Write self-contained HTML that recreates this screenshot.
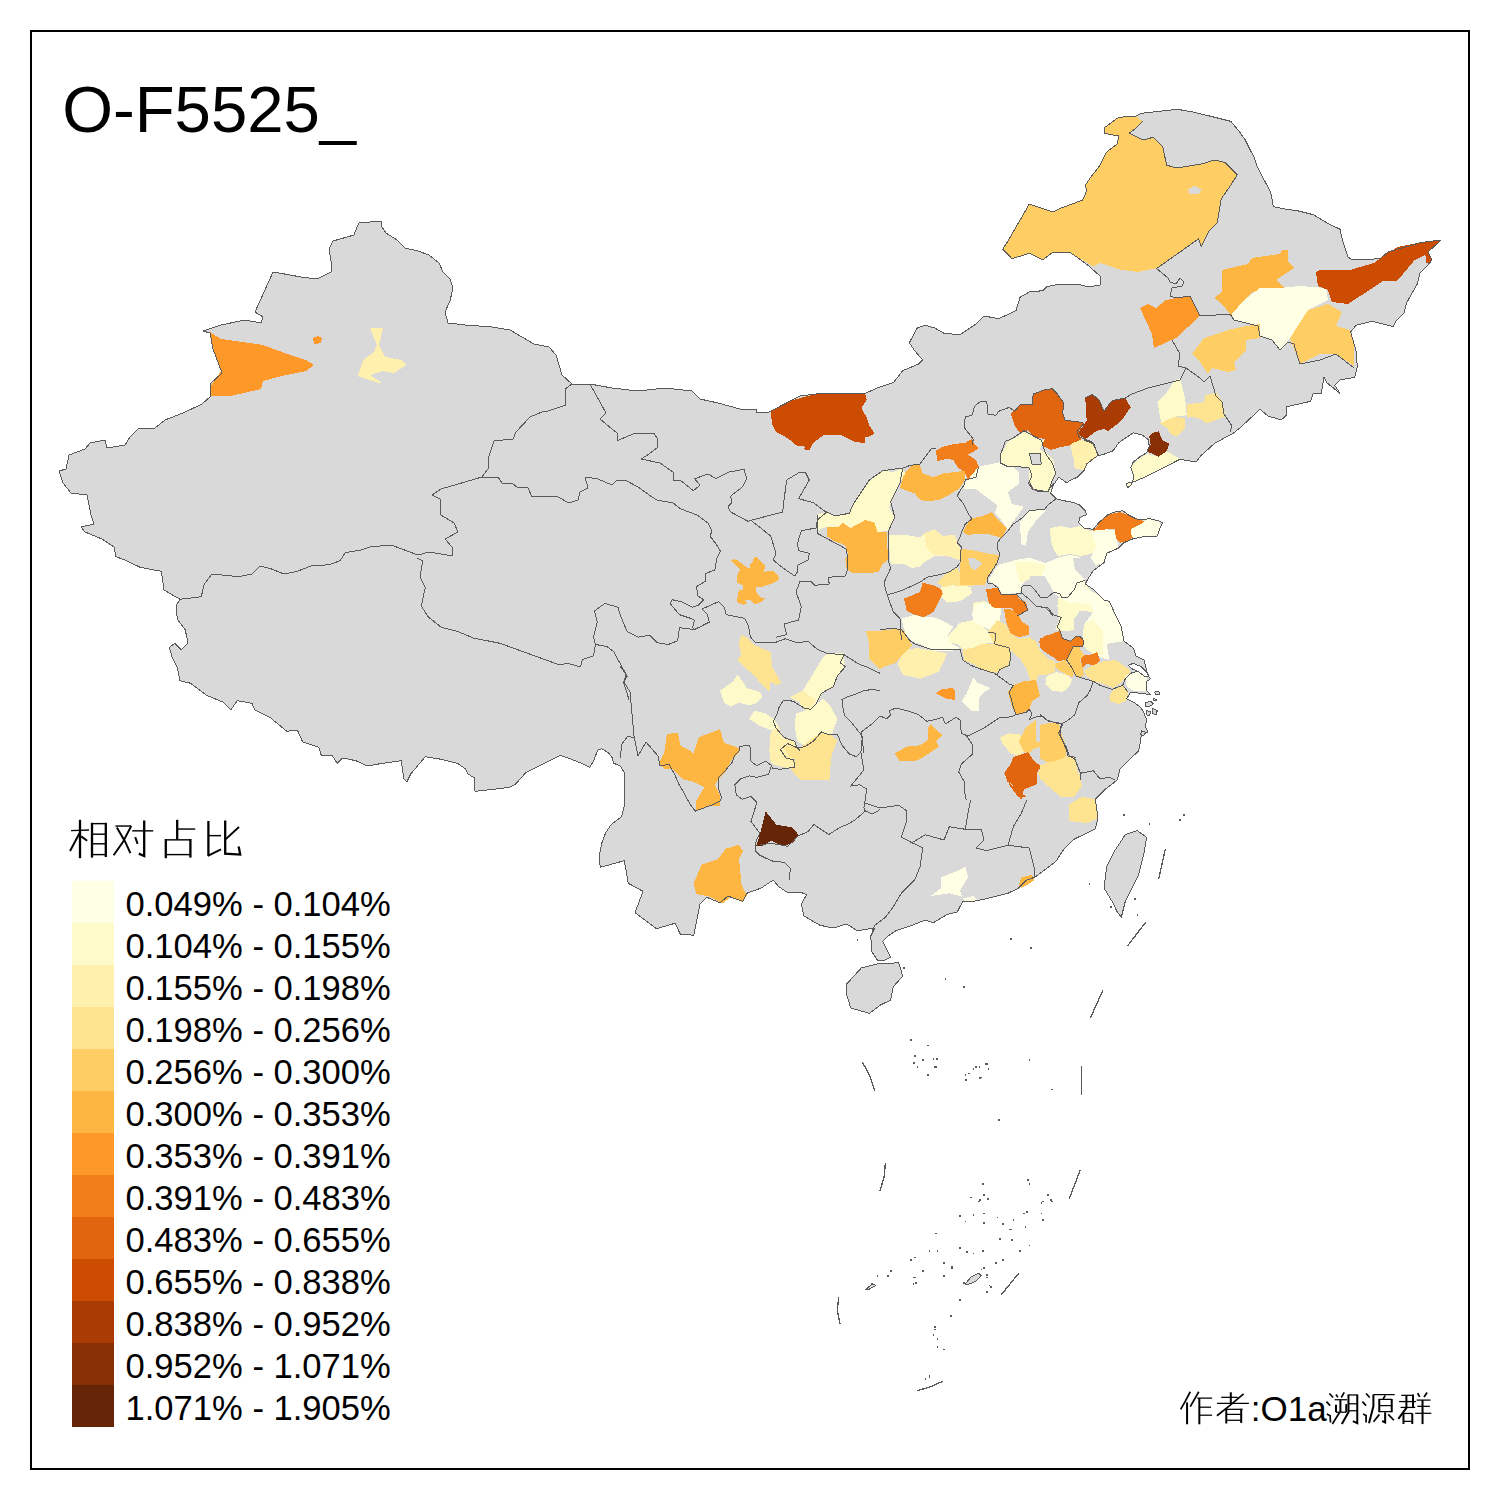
<!DOCTYPE html><html><head><meta charset="utf-8"><style>html,body{margin:0;padding:0;background:#fff;}body{width:1500px;height:1500px;overflow:hidden;position:relative;font-family:"Liberation Sans",sans-serif;}svg{position:absolute;left:0;top:0;}.cjk{font-family:"Liberation Serif",serif;font-weight:300;}.cjk2{font-family:"Liberation Sans",sans-serif;font-weight:300;}</style></head><body>
<svg width="1500" height="1500" viewBox="0 0 1500 1500">
<rect x="0" y="0" width="1500" height="1500" fill="#fff"/>
<g stroke-linejoin="round" shape-rendering="crispEdges">
<path d="M359 223 L381 221 L382 227 L386 233 L397 240 L405 248 L418 251 L429 255 L439 263 L443 272 L450 279 L453 288 L450 301 L445 312 L448 323 L465 325 L492 327 L510 330 L534 344 L549 347 L556 355 L562 375 L572 384 L590 384 L612 388 L638 391 L665 388 L692 391 L700 399 L718 403 L740 409 L756 409 L757 413 L769 412 L800 396 L821.3 393.3 L865.3 393.3 L877.3 388 L893.3 382.7 L902.7 370.7 L918.7 364 L922.7 360 L914.7 350.7 L909.3 342.7 L917.3 328 L925.3 325.3 L934.7 328 L944 333.3 L960 334.7 L976 324 L984 316 L998.7 318.7 L1016 310.7 L1020 297.3 L1029.3 292 L1042.7 290.7 L1046.7 286.7 L1060 284 L1077.3 284 L1088 286.7 L1100 285.3 L1100 276 L1088 265.3 L1077.3 257.3 L1069.3 252 L1053.3 252 L1042.7 260 L1029.3 253.3 L1012 258.7 L1002.7 249.3 L1009.3 238.7 L1029.3 204 L1053.3 212 L1061.3 208 L1082.7 200 L1086.7 190.7 L1085.3 185.3 L1090.7 177.3 L1100 165.3 L1106.7 152 L1117.3 144 L1118.7 136 L1104 133.3 L1104 128 L1118.7 117.3 L1136 116 L1141.3 113.3 L1153.3 112 L1177.3 109.3 L1193.3 112 L1214.7 117.3 L1230.7 121.3 L1238.7 130.7 L1245.3 140 L1249.3 148 L1254.7 158.7 L1257.3 166.7 L1262.7 177.3 L1270.7 192 L1273.3 206.7 L1286.7 209.3 L1297.3 210.7 L1313.3 214.7 L1326.7 222.7 L1340 229.3 L1342.7 241.3 L1348 257.3 L1353.3 260 L1380 258.7 L1388 252 L1420 242.7 L1441.3 240 L1428 252 L1432 260 L1425.3 268 L1420 273.3 L1417.3 284 L1406.7 302.7 L1404 313.3 L1396 321.3 L1393.3 326.7 L1372 321.3 L1356 325.3 L1350.7 332 L1356 350.7 L1357.3 366.7 L1354.7 377.3 L1340 380 L1334.7 385.3 L1340 393.3 L1326.7 382.7 L1324 377.3 L1321.3 393.3 L1313.3 393.3 L1310.7 401.3 L1286.7 406.7 L1286.7 414.7 L1281.3 420 L1268 416 L1260 409.3 L1241.3 426.7 L1233.3 433.3 L1228 436 L1214.7 443.3 L1201.3 455.3 L1196 462 L1180 459.3 L1166.7 466 L1153.3 472.7 L1142.7 478 L1133.3 482 L1126.7 483.3 L1127.3 488 L1131.3 484.7 L1134 476.7 L1132 471.3 L1130.7 467.3 L1133.3 462 L1140 456.7 L1146.7 452.7 L1149.3 446 L1148 439.3 L1142.7 435.3 L1133.3 432.7 L1118.7 442.7 L1113.3 450.7 L1102.7 454.7 L1097.3 456 L1093.3 458.7 L1086.7 464 L1084 470.7 L1077.3 477.3 L1070.7 480 L1066.7 482.7 L1058.7 477.3 L1053.3 485.3 L1050.7 493.3 L1056 498.7 L1066.7 501.3 L1074.7 502.7 L1080 505.3 L1085.3 510.7 L1086.7 514.7 L1080 517.3 L1078.7 522.7 L1084 528 L1093.3 529.3 L1098.7 522.7 L1108 514.7 L1114.7 512 L1122.7 510.7 L1128 514.7 L1136 518.7 L1141.3 520 L1149.3 518.7 L1160 521.3 L1162.7 522.7 L1160 528 L1157.3 536 L1149.3 536 L1140 537.3 L1133.3 538.7 L1124 542.7 L1118.7 548 L1106.7 553.3 L1104 562.7 L1093.3 570.7 L1088 578.7 L1085.3 584 L1093.3 589.3 L1104 600 L1109.3 601.3 L1114.7 613.3 L1121.3 626.7 L1124 641.3 L1133.3 648 L1136 656 L1144 660 L1146.7 670.7 L1148 676 L1150.7 678.7 L1146.7 681.3 L1146.7 690.7 L1150.7 694.7 L1130.7 692 L1126.7 698.7 L1134.7 702.7 L1141.3 708 L1144 713.3 L1146.7 720 L1145.3 726.7 L1148 732 L1141.3 734.7 L1140 744 L1138.7 750.7 L1133.3 756 L1128 761.3 L1120 769.3 L1117.3 780 L1106 788.7 L1095.3 799.3 L1098 818 L1095.3 828.7 L1084.7 834 L1074 839.3 L1063.3 850 L1056 861.3 L1045.3 869.3 L1034.7 877.3 L1026.7 880 L1018.7 888 L1008 893.3 L986.7 898.7 L973.3 901.3 L962.7 901.3 L957.3 912 L946.7 914.7 L933.3 922.7 L925.3 920 L912 925.3 L896 930.7 L888 936 L882.7 941.3 L890.7 957.3 L885.3 960 L877.3 960 L872 952 L870.7 936 L874.7 928 L857.3 930.7 L846.7 924 L833.3 928 L820 925.3 L804 916 L801.3 904 L806.7 894.7 L800 892 L786.7 892 L778.7 886.7 L773.3 880 L761.3 888 L746.7 893.3 L742.7 901.3 L734.7 898.7 L728 896 L720 902.7 L706.7 897.3 L700 904 L693.7 935.3 L680.3 934 L675 923.3 L656.3 928.7 L635 912.7 L643 891.3 L628.3 883.3 L624.3 860.7 L600.3 867.3 L599 856.7 L601.7 843.3 L605.7 832.7 L611 824.7 L621.7 816.7 L624.3 806 L624.3 772.7 L620.3 766 L613.7 763.3 L612.3 758 L608.3 752.7 L601.7 748.7 L597.7 750 L593.7 760.7 L589.7 767.3 L581.7 763.3 L568.3 758 L560.3 755.3 L544.3 763.3 L525.7 772.7 L515 784.7 L509.7 787.3 L499 788.7 L475 791.3 L474.7 778 L468 774 L465.3 768.7 L457.3 763.3 L441.3 759.3 L425.3 756.7 L410.7 774 L406.7 782 L404 779.3 L401.3 760.7 L382.7 763.3 L366.7 766 L356 760.7 L342.7 758 L337.3 763.3 L332 755.3 L321.3 755.3 L318.7 747.3 L302.7 742 L297.3 730 L286.7 731.3 L270.7 718 L254.7 710 L252 703.3 L237.3 700.7 L230.7 710 L222.7 702 L206.7 695.3 L190.7 683.3 L180 680.7 L177.3 667.3 L172 656.7 L169.3 647.3 L174.7 643.3 L181.3 650 L188 643.3 L185.3 630 L177.3 619.3 L176 606 L180 599.3 L164 590 L161.3 571.3 L140 567.3 L126.7 560.7 L116 556.7 L114 547 L102 539 L85 532 L81 527 L94 524 L91 515 L87 495 L71 493 L63 483 L59 471 L66 469 L69 455 L85 449 L90 443 L105 440 L107 448 L125 445 L130 437 L138 429 L155 428 L165 420 L183 413 L202 404 L210 397 L210 384 L222 373 L213 349 L210 333 L203 331 L221 325 L245 320 L261 323 L263 317 L255 312 L273 272 L279 273 L301 277 L317 279 L331 272 L331 261 L329 249 L333 241 L354 235 L357 227Z" fill="#D9D9D9"/>
<path d="M846.7 984 L861.3 968 L877.3 964 L898.7 962.7 L902.7 976 L893.3 986.7 L890.7 1000 L880 1005.3 L869.3 1013.3 L850.7 1008 L846.7 994.7Z" fill="#D9D9D9"/>
<path d="M1104 888 L1106.7 866.7 L1114.7 850.7 L1125.3 834.7 L1137.3 830.7 L1146.7 837.3 L1144 853.3 L1138.7 874.7 L1130.7 890.7 L1125.3 901.3 L1121.3 917.3 L1117.3 912 L1112 901.3Z" fill="#D9D9D9"/>
<path d="M210 332 L221 339 L263 345 L290 355 L306 360 L314 365 L306 371 L282 376 L263 381 L261 389 L231 396 L210 396 L210 387 L217 377 L221 371 L215 355Z" fill="#FE9929"/>
<path d="M313 338 L318 336 L322 338 L321 343 L314 344Z" fill="#FE9929"/>
<path d="M370 328 L383 328 L379 345 L385 357 L402 360 L406 365 L394 373 L383 371 L370 375 L382 383 L378 383 L358 376 L363 360 L374 352 L377 345Z" fill="#FFF0AE"/>
<path d="M770.7 412 L776 408 L793.3 400 L808 396 L820 393.3 L833.3 393.3 L846.7 393.3 L865.3 394 L866.7 400 L861.3 408 L866.7 417.3 L869.3 425.3 L874.7 433.3 L870.7 436 L865.3 437.3 L864.7 443.3 L853.3 441.3 L840 434.7 L824 434.7 L813.3 442.7 L809.3 450.7 L804 449.3 L805.3 446.7 L796 445.3 L792 441.3 L784 436 L776 432 L772 424Z" fill="#CC4C02"/>
<path d="M731 560.4 L734.2 559.2 L737.8 560.4 L747 567.6 L749.8 568 L750.2 564 L753 561.2 L753.8 557.6 L756.6 557.2 L761 561.2 L765 565.6 L764.2 571.6 L773.8 571.2 L777 574.4 L779 578.4 L777.8 580.8 L770.6 584 L762.6 586.8 L756.2 587.2 L756.2 592 L758.2 595.2 L761 597.6 L765 598.4 L761.8 601.6 L759.4 602.8 L754.6 604 L750.6 599.6 L745 600 L746.6 603.6 L743.4 604.8 L737 602 L737.4 597.2 L739 590 L743 589.6 L742.6 585.2 L737 582.8 L736.6 577.6 L738.6 571.6 L740.2 570Z" fill="#FEB642"/>
<path d="M1002.7 249.3 L1009.3 238.7 L1029.3 204 L1053.3 212 L1061.3 208 L1082.7 200 L1086.7 190.7 L1085.3 185.3 L1090.7 177.3 L1100 165.3 L1106.7 152 L1117.3 144 L1118.7 136 L1104 133.3 L1104 128 L1118.7 117.3 L1136 116 L1142.7 121.3 L1136 128 L1129.3 133.3 L1142.7 140 L1153.3 137.3 L1162.7 146.7 L1166.7 165.3 L1177.3 168 L1201.3 164 L1214.7 160 L1225.3 162.7 L1237.3 174.7 L1230.7 185.3 L1221.3 198.7 L1217.3 222.7 L1209.3 230.7 L1201.3 246.7 L1198.7 238.7 L1180 252 L1157.3 268 L1137.3 272 L1118.7 269.3 L1100 262.7 L1093.3 266.7 L1082.7 260 L1069.3 252 L1053.3 252 L1042.7 260 L1029.3 253.3 L1012 258.7Z" fill="#FECE65"/>
<path d="M1188 189.3 L1194.7 185.9 L1201.9 189.3 L1198.7 193.9 L1189.3 193.9Z" fill="#D9D9D9"/>
<path d="M1140 308 L1148 304 L1156 308 L1166 300 L1188 296 L1192 300 L1200 316 L1176 338 L1154 348 L1152 334Z" fill="#FE9929"/>
<path d="M1214 298 L1222 292 L1222 270 L1248 264 L1252 258 L1280 254 L1282 250 L1288 250 L1288 262 L1294 268 L1276 280 L1284 288 L1252 292 L1236 310 L1232 316 L1220 302Z" fill="#FEB642"/>
<path d="M1232 314 L1244 300 L1260 288 L1280 288 L1300 286 L1326 288 L1328 300 L1308 310 L1302 330 L1290 338 L1284 348 L1280 350 L1272 340 L1260 336 L1258 326 L1234 320Z" fill="#FFFFE5"/>
<path d="M1290 338 L1308 310 L1328 304 L1342 312 L1336 326 L1350 330 L1354 346 L1354 366 L1336 354 L1320 354 L1300 364Z" fill="#FECE65"/>
<path d="M1192 354 L1204 338 L1228 330 L1246 326 L1260 324 L1260 338 L1246 340 L1246 350 L1234 362 L1236 370 L1228 372 L1212 368 L1208 374 L1200 362Z" fill="#FECE65"/>
<path d="M1316 272 L1320 270 L1342 270 L1350 270 L1374.7 262.7 L1386.7 253.3 L1398.7 246.7 L1420 242.7 L1440 240 L1428 252 L1432 260 L1426.7 264 L1425.3 254.7 L1414.7 260 L1401.3 276 L1396 281.3 L1382.7 281.3 L1348 304 L1332 302 L1328 290 L1318 286Z" fill="#CC4C02"/>
<path d="M1157.3 402 L1166.7 392.7 L1174.7 380.7 L1180 378 L1182.7 388.7 L1185.3 399.3 L1186.7 415.3 L1174.7 416.7 L1161.3 423.3Z" fill="#FFFACA"/>
<path d="M1186.7 404.7 L1204 402 L1205.3 395.3 L1216 392.7 L1222.7 402 L1225.3 416.7 L1206.7 423.3 L1198.7 418 L1186.7 416.7Z" fill="#FEE391"/>
<path d="M1160 423.3 L1174.7 416.7 L1185.3 418 L1185.3 428.7 L1177.3 436.7 L1170.7 434 L1168 428.7Z" fill="#FEE391"/>
<path d="M1077.3 434 L1086.7 420.7 L1085.3 398 L1092 394.7 L1098.7 399.3 L1104 411.3 L1112 400.7 L1125.3 398 L1130.7 407.3 L1121.3 420.7 L1108 431.3 L1104 428.7 L1096 431.3 L1085.3 439.3Z" fill="#AA3C03"/>
<path d="M1146.7 451.3 L1150.7 444.7 L1149.3 436.7 L1153.3 432.7 L1158.7 431.3 L1162.7 440.7 L1169.3 443.3 L1166.7 451.3 L1158.7 456.7Z" fill="#882F05"/>
<path d="M1127.3 487.3 L1131.3 484.7 L1134 476.7 L1132 471.3 L1130.7 467.3 L1140 458 L1146.7 454 L1158.7 456.7 L1166.7 451.3 L1178.7 458 L1180 459.3 L1166.7 466 L1153.3 472.7 L1142.7 478 L1133.3 482 L1126.7 483.3Z" fill="#FFFACA"/>
<path d="M1070.7 446 L1081.3 439.3 L1092 442 L1098.7 455.3 L1093.3 460.7 L1086.7 463.3 L1085.3 470 L1074.7 468.7 L1073.3 456.7Z" fill="#FFF0AE"/>
<path d="M1010.7 414 L1020 404.7 L1032 404.7 L1033.3 394 L1044 390 L1052 388.7 L1057.3 394 L1064 403.3 L1062.7 412.7 L1065.3 420.7 L1076 421.3 L1084 423.3 L1078.7 431.3 L1081.3 439.3 L1073.3 444.7 L1060 447.3 L1050.7 450 L1041.3 444.7 L1045.3 439.3 L1033.3 436.7 L1028 430 L1020 432.7 L1014.7 426Z" fill="#E1640E"/>
<path d="M936 450.7 L942.7 446.7 L954.7 444 L965.3 442.7 L972 438.7 L974.7 444 L978.7 448 L973.3 452 L968 454.7 L976 460 L978.7 466.7 L976 477.3 L968 480 L965.3 473.3 L957.3 466.7 L953.3 460 L946.7 458.7 L937.3 461.3Z" fill="#F27E1B"/>
<path d="M900 488 L904 473.3 L912 465.3 L920 465.3 L922.7 473.3 L933.3 477.3 L944 473.3 L954.7 472 L965.3 470.7 L965.3 478.7 L960 488 L949.3 494.7 L938.7 500 L926.7 501.3 L920 500 L914.7 493.3 L906.7 490.7Z" fill="#FEB642"/>
<path d="M818.7 533.3 L816 525.3 L817.3 514.7 L825.3 512 L834.7 516 L849.3 513.3 L853.3 504 L857.3 496 L869.3 480 L876 474.7 L882.7 470.7 L893.3 472 L902.7 468 L905.3 473.3 L900 482.7 L892 498.7 L889.3 508 L894.7 517.3 L889.3 530.7 L877.3 532 L874.7 522.7 L865.3 520 L850.7 528 L842.7 522.7 L838.7 526.7 L826.7 526.7 L817.3 530.7Z" fill="#FFFACA"/>
<path d="M826.7 526.7 L838.7 526.7 L842.7 522.7 L850.7 528 L865.3 520 L874.7 522.7 L877.3 532 L886.7 532 L888 560 L882.7 564 L878.7 572 L866.7 573.3 L853.3 573.3 L846.7 569.3 L845.3 560 L848 553.3 L845.3 545.3 L834.7 541.3 L826.7 536Z" fill="#FEB642"/>
<path d="M964 484 L978.7 466.7 L997.3 462.7 L1008 461.3 L1018.7 472 L1018.7 484 L1008 492 L1012 504 L1024 506.7 L1013.3 521.3 L1008 529.3 L1000 518.7 L994.7 513.3 L997.3 505.3 L986.7 497.3 L976 489.3 L964 489.3Z" fill="#FFFFE5"/>
<path d="M1000 456 L1008 441.3 L1016 437.3 L1025.3 430.7 L1036 438.7 L1044 440 L1040 449.3 L1046.7 453.3 L1053.3 460 L1056 473.3 L1052 481.3 L1050.7 492 L1034.7 489.3 L1029.3 481.3 L1029.3 468 L1018.7 466.7 L1008 466.7 L1001.3 462.7Z" fill="#FFFACA"/>
<path d="M1029.3 453.3 L1040 453.3 L1041.3 464 L1032 464Z" fill="#D9D9D9"/>
<path d="M1070.7 444 L1080 440 L1080 465.3 L1074.7 461.3 L1072 453.3Z" fill="#FFF0AE"/>
<path d="M888 534.7 L904 534.7 L920 537.3 L924 533.3 L926.7 548 L933.3 554.7 L946.7 556 L934.7 556 L924 562.7 L920 566.7 L912 568 L904 564 L890.7 564Z" fill="#FFFACA"/>
<path d="M924 533.3 L934.7 529.3 L942.7 536 L954.7 534.7 L960 548 L960 560 L946.7 556 L933.3 554.7 L926.7 548Z" fill="#FFF0AE"/>
<path d="M937.3 582.7 L946.7 573.3 L957.3 568 L962.7 577.3 L976 585.3 L965.3 586.7 L954.7 585.3 L944 588Z" fill="#FEE391"/>
<path d="M938.7 588 L952 585.3 L970.7 586.7 L972 593.3 L960 601.3 L946.7 602.7 L940 596Z" fill="#FFFACA"/>
<path d="M904 598.7 L920 592 L922.7 582.7 L933.3 585.3 L941.3 589.3 L942.7 593.3 L936 606.7 L933.3 612 L924 617.3 L914.7 614.7 L906.7 610.7Z" fill="#F27E1B"/>
<path d="M963 532 L970 519 L983 516 L992 512 L996 518 L1007 528 L1002 538 L988 534 L975 534 L968 535Z" fill="#FEB642"/>
<path d="M962 549 L972 550 L990 554 L1000 555 L998 562 L990 573 L987 579 L985 585 L970 585 L960 585 L960 550Z" fill="#FECE65"/>
<path d="M968 558 L974 558 L982 563 L975 570 L970 567Z" fill="#D9D9D9"/>
<path d="M1020 522 L1030 510 L1046 510 L1035 522 L1028 532 L1026 546 L1021 544Z" fill="#FFFFE5"/>
<path d="M1050 528 L1060 526 L1070 528 L1080 526 L1090 531 L1098 538 L1102 545 L1098 550 L1090 554 L1080 556 L1070 554 L1058 556 L1054 550 L1051 542Z" fill="#FFFACA"/>
<path d="M1090 532 L1096 528 L1108 530 L1110 532 L1110 554 L1104 556 L1098 550 L1102 545 L1098 538Z" fill="#FFFFE5"/>
<path d="M998 565 L1020 559 L1030 558 L1046 563 L1060 557 L1071 555 L1080 557 L1083 565 L1088 570 L1086 580 L1080 584 L1075 590 L1068 597 L1060 593 L1053 591 L1047 580 L1045 576 L1030 576 L1022 584 L1020 593 L1002 594 L998 586 L990 582 L989 579Z" fill="#FFFFE5"/>
<path d="M1015 562 L1030 562 L1046 565 L1042 575 L1030 579 L1020 583 L1017 572Z" fill="#FFFACA"/>
<path d="M1030 576 L1045 576 L1053 591 L1048 597 L1040 597 L1035 590 L1030 585Z" fill="#D9D9D9"/>
<path d="M1073 558 L1083 558 L1090 566 L1090 576 L1085 580 L1075 570Z" fill="#D9D9D9"/>
<path d="M1058 598 L1068 597 L1075 590 L1085 583 L1090 590 L1100 596 L1110 602 L1110 630 L1055 630 L1060 618 L1058 606Z" fill="#FFFACA"/>
<path d="M1074 610 L1090 608 L1093 616 L1090 630 L1074 630Z" fill="#D9D9D9"/>
<path d="M986 589 L998 588 L1001 594 L1016 594 L1020 600 L1026 602 L1028 610 L1016 616 L1012 608 L1003 608 L992 610 L988 600Z" fill="#F27E1B"/>
<path d="M1090.7 530.7 L1106.7 529.3 L1114.7 530.7 L1118.7 548 L1106.7 553.3 L1104 562.7 L1096 565.3 L1090.7 557.3 L1096 546.7Z" fill="#FFFFE5"/>
<path d="M1093.3 530.7 L1100 522.7 L1108 514.7 L1120 512 L1128 514.7 L1133.3 517.3 L1144 521.3 L1138.7 528 L1130.7 529.3 L1130.7 533.3 L1133.3 537.3 L1126.7 541.3 L1120 542.7 L1116 538.7 L1114.7 529.3 L1106.7 529.3Z" fill="#F27E1B"/>
<path d="M1130.7 529.3 L1141.3 524 L1146.7 518.7 L1160 521.3 L1160 528 L1157.3 536 L1149.3 536 L1140 537.3 L1133.3 538.7 L1130.7 533.3Z" fill="#FFFFE5"/>
<path d="M901.3 618.7 L914.7 614.7 L922.7 617.3 L933.3 617.3 L941.3 620 L953.3 626.7 L948 634.7 L952 644 L960 648 L952 650.7 L930.7 650.7 L922.7 645.3 L912 641.3 L905.3 633.3Z" fill="#FFFFE5"/>
<path d="M973.3 602.7 L984 601.3 L990.7 604 L993.3 613.3 L996 620 L973.3 620Z" fill="#FFFACA"/>
<path d="M880 630.7 L893.3 629.3 L902.7 629.3 L912 645.3 L906.7 650.7 L900 657.3 L896 662.7 L884 666.7 L880 669.3 L868.7 658 L868.7 642 L866 631.3Z" fill="#FECE65"/>
<path d="M897.3 664 L901.3 656 L908 649.3 L917.3 648 L933.3 650.7 L946.7 653.3 L944 661.3 L938.7 672 L920 678.7 L902.7 674.7Z" fill="#FFF0AE"/>
<path d="M949.3 634.7 L960 622.7 L973.3 620 L981.3 625.3 L989.3 632 L993.3 642.7 L981.3 644 L974.7 650.7 L962.7 649.3 L957.3 644 L949.3 642.7Z" fill="#FFFACA"/>
<path d="M972 613.3 L976 604 L986.7 602.7 L994.7 608 L1001.3 608 L1000 620 L992 630.7 L982.7 626.7 L973.3 621.3Z" fill="#FFFFE5"/>
<path d="M1004 609.3 L1010.7 609.3 L1018.7 614.7 L1021.3 621.3 L1029.3 626.7 L1029.3 634.7 L1024 636 L1018.7 637.3 L1010.7 633.3 L1006.7 624Z" fill="#FE9929"/>
<path d="M988 632 L997.3 620 L1005.3 624 L1010.7 633.3 L1018.7 638.7 L1029.3 637.3 L1036 641.3 L1040 650.7 L1048 658.7 L1054.7 661.3 L1054.7 672 L1046.7 674.7 L1038.7 674.7 L1036 682.7 L1037.3 685.3 L1030.7 681.3 L1026.7 669.3 L1020 658.7 L1010.7 650.7 L994.7 645.3Z" fill="#FEE391"/>
<path d="M962.7 649.3 L973.3 648 L981.3 644 L993.3 644 L1008 646.7 L1010.7 656 L1008 666.7 L1000 670.7 L994.7 673.3 L984 670.7 L973.3 664 L964 660Z" fill="#FEE391"/>
<path d="M1038.7 641.3 L1046.7 634.7 L1056 634.7 L1060 630.7 L1064 640 L1073.3 642.7 L1072 650.7 L1066.7 658.7 L1058.7 661.3 L1053.3 657.3 L1042.7 650.7Z" fill="#F27E1B"/>
<path d="M1066.7 660 L1072 650.7 L1077.3 644 L1080 644 L1080 678.7 L1074.7 674.7 L1069.3 666.7Z" fill="#FECE65"/>
<path d="M1054.7 664 L1065.3 660 L1072 669.3 L1073.3 677.3 L1066.7 674.7 L1057.3 669.3Z" fill="#FECE65"/>
<path d="M1046.7 676 L1056 672 L1066.7 674.7 L1072 680 L1069.3 686.7 L1062.7 692 L1052 690.7 L1045.3 684Z" fill="#FFFACA"/>
<path d="M1008 692 L1013.3 685.3 L1024 681.3 L1036 680 L1040 696 L1032 701.3 L1029.3 709.3 L1024 712 L1016 714.7 L1012 706.7Z" fill="#FEB642"/>
<path d="M936 693.3 L941.3 689.3 L952 688 L954.7 690.7 L954.7 700 L946.7 698.7Z" fill="#FE9929"/>
<path d="M961.3 701.3 L966.7 693.3 L973.3 677.3 L977.3 682.7 L990.7 688 L982.7 693.3 L978.7 698.7 L978.7 710.7 L970.7 710.7Z" fill="#FFFFE5"/>
<path d="M894.7 753.3 L906.7 746.7 L920 745.3 L928 740 L928 728 L930.7 724 L938.7 732 L942.7 734.7 L936 741.3 L938.7 746.7 L929.3 753.3 L918.7 760 L910.7 761.3 L900 761.3Z" fill="#FEB642"/>
<path d="M1000 737.3 L1009.3 733.3 L1021.3 734.7 L1021.3 745.3 L1024 752 L1018.7 756 L1010.7 753.3 L1002.7 744Z" fill="#FFF0AE"/>
<path d="M1018.7 741.3 L1025.3 728 L1036 720 L1036 741.3 L1046.7 744 L1040 746.7 L1033.3 749.3 L1029.3 753.3 L1024 752Z" fill="#FECE65"/>
<path d="M1040 728 L1048 722.7 L1058.7 722.7 L1062.7 737.3 L1066.7 748 L1065.3 757.3 L1054.7 762.7 L1048 764 L1041.3 756 L1040 745.3Z" fill="#FECE65"/>
<path d="M1004 773.3 L1010.7 764 L1013.3 757.3 L1028 752 L1033.3 760 L1041.3 766.7 L1037.3 772 L1037.3 784 L1030.7 786.7 L1024 789.3 L1021.3 800 L1017.3 793.3 L1012 784 L1005.3 780 L1026 796.7 L1018 796.7 L1010 786Z" fill="#E1640E"/>
<path d="M1037.3 773.3 L1044 764 L1053.3 760 L1066.7 756 L1074.7 757.3 L1077.3 770.7 L1080 776 L1079.3 772.7 L1082 786 L1074 796.7 L1060.7 796.7 L1044.7 783.3Z" fill="#FEE391"/>
<path d="M1068.7 804.7 L1082 796.7 L1095.3 799.3 L1098 818 L1087.3 823.3 L1068.7 820.7Z" fill="#FEE391"/>
<path d="M1053.3 580 L1085.3 580 L1084 586.7 L1092 592 L1109.3 601.3 L1114.7 613.3 L1121.3 626.7 L1124 641.3 L1113.3 642.7 L1106.7 644 L1109.3 660 L1100 657.3 L1093.3 654.7 L1084 646.7 L1082.7 636 L1085.3 622.7 L1093.3 612 L1090.7 604 L1074.7 606.7 L1069.3 602.7 L1061.3 598.7 L1053.3 593.3Z" fill="#FFFFE5"/>
<path d="M1057.3 605.3 L1072 602.7 L1090.7 604 L1093.3 612 L1080 610.7 L1073.3 620 L1070.7 630.7 L1061.3 630.7 L1058.7 620Z" fill="#FFFACA"/>
<path d="M1084 624 L1093.3 620 L1102.7 630.7 L1102.7 654.7 L1093.3 654.7 L1084 646.7 L1082.7 636Z" fill="#FFFACA"/>
<path d="M1040 638.7 L1053.3 633.3 L1060 630.7 L1062.7 638.7 L1070.7 641.3 L1076 636 L1080 636 L1084 641.3 L1082.7 646.7 L1073.3 646.7 L1069.3 652 L1065.3 660 L1057.3 661.3 L1054.7 654.7 L1042.7 649.3 L1040 648Z" fill="#F27E1B"/>
<path d="M1080 656 L1090.7 654.7 L1097.3 652 L1100 660 L1096 665.3 L1086.7 664 L1082.7 668Z" fill="#F27E1B"/>
<path d="M1066.7 660 L1073.3 646.7 L1080 649.3 L1084 654.7 L1080 660 L1082.7 668 L1084 676 L1076 677.3 L1072 670.7Z" fill="#FECE65"/>
<path d="M1084 670.7 L1093.3 665.3 L1104 661.3 L1114.7 660 L1120 662.7 L1130.7 670.7 L1126.7 677.3 L1122.7 681.3 L1113.3 688 L1104 684 L1093.3 681.3 L1086.7 676Z" fill="#FEE391"/>
<path d="M1125.3 676 L1130.7 673.3 L1138.7 670.7 L1146.7 678.7 L1146.7 690.7 L1133.3 690.7 L1126.7 686.7Z" fill="#FFFFE5"/>
<path d="M1109.3 696 L1114.7 688 L1122.7 685.3 L1128 692 L1126.7 700 L1118.7 704 L1110.7 701.3Z" fill="#FEE391"/>
<path d="M1044 724 L1057.3 722.7 L1061.3 733.3 L1066.7 748 L1064 758.7 L1052 764 L1040 758.7 L1040 725.3Z" fill="#FECE65"/>
<path d="M1040 765.3 L1053.3 761.3 L1070.7 756 L1074.7 766.7 L1080 777.3 L1080 780 L1040 780Z" fill="#FEE391"/>
<path d="M930.7 896 L941.3 888 L941.3 877.3 L954.7 872 L965.3 866.7 L968 877.3 L960 890.7 L962.7 898.7 L973.3 896 L978.7 901.3 L965.3 901.3 L960 896 L949.3 893.3Z" fill="#FFFFE5"/>
<path d="M1018.7 885.3 L1021.3 877.3 L1032 874.7 L1034.7 880 L1026.7 885.3 L1021.3 888Z" fill="#FEB642"/>
<path d="M756.3 846 L760.3 832.7 L765.7 811.3 L776.3 824.7 L792.3 827.3 L799 835.3 L792.3 843.3 L781.7 846 L771 840.7 L761.7 846Z" fill="#662506"/>
<path d="M693.7 883.3 L701.7 864.7 L717.7 859.3 L725.7 848.7 L739 844.7 L743 851.3 L739 859.3 L741.7 886 L747 895.3 L741.7 902 L731 896.7 L723 903.3 L709.7 896.7 L696.3 894Z" fill="#FEB642"/>
<path d="M680 745.3 L688 749.3 L693.3 753.3 L698.7 737.3 L709.3 733.3 L720 729.3 L724 742.7 L738.7 748 L738.7 753.3 L730.7 761.3 L725.3 772 L717.3 780 L720.3 776.7 L715 784.7 L720.3 795.3 L720.3 806 L707 806 L696.3 811.3 L696.3 800.7 L704.3 787.3 L693.7 782 L683 779.3 L672.3 768.7 L664.3 768.7 L659 763.3 L664.3 752.7 L667 734 L677.7 732.7 L680.3 744.7 L688.3 751.3Z" fill="#FEB642"/>
<path d="M741.3 634.7 L746.7 637.3 L754.7 645.3 L770.7 652 L772 666.7 L781.3 682.7 L776 685.3 L770.7 681.3 L769.3 692 L762.7 685.3 L752 673.3 L745.3 668 L737.3 660 L741.3 654.7 L738.7 644Z" fill="#FEE391"/>
<path d="M720 690.7 L733.3 681.3 L737.3 674.7 L742.7 681.3 L746.7 688 L760 692 L762.7 697.3 L757.3 702.7 L749.3 705.3 L738.7 702.7 L730.7 706.7 L724 702.7Z" fill="#FFFACA"/>
<path d="M802.7 690.7 L813.3 673.3 L821.3 660 L826.7 653.3 L842.7 653.3 L845.3 666.7 L837.3 676 L833.3 686.7 L824 690.7 L818.7 700 L810.7 709.3 L800 705.3Z" fill="#FFFACA"/>
<path d="M789.3 697.3 L802.7 690.7 L812 697.3 L816 700 L810.7 709.3 L805.3 710.7 L800 702.7Z" fill="#FFF0AE"/>
<path d="M796 713.3 L810.7 709.3 L822.7 698.7 L830.7 706.7 L837.3 718.7 L832 734.7 L821.3 732 L813.3 738.7 L806.7 746.7 L797.3 741.3 L794.7 726.7Z" fill="#FFFACA"/>
<path d="M749.3 718.7 L754.7 710.7 L765.3 713.3 L773.3 718.7 L778.7 726.7 L772 730.7 L765.3 728 L758.7 725.3Z" fill="#FFFACA"/>
<path d="M770.7 732 L778.7 726.7 L782.7 737.3 L794.7 741.3 L797.3 749.3 L793.3 758.7 L794.7 766.7 L786.7 768 L776 765.3 L770.7 762.7 L769.3 750.7Z" fill="#FFF0AE"/>
<path d="M782.7 745.3 L800 748 L806.7 742.7 L821.3 732 L830.7 734.7 L837.3 740 L832 753.3 L830.7 764 L829.3 780 L800 780 L790.7 769.3 L794.7 764 L794.7 758.7 L782.7 754.7 L832.3 782 L816.3 776.7 L800.3 774Z" fill="#FEE391"/>
<g fill="none" stroke="#5A5A5A" stroke-width="1">
<path d="M180 599.3 L201.3 596.7 L204 584.7 L212 574 L238.7 576.7 L252 574 L260 566 L270.7 568.7 L284 574 L297.3 571.3 L310.7 566 L329.3 564.7 L340 560.7 L345.3 552.7 L361.3 550 L361 550 L370 547 L391 545 L418 555 L429 552 L453 556"/>
<path d="M417.3 558 L422.7 560.7 L420 576.7 L425.3 587.3 L421.3 606 L428 616.7 L441.3 627.3 L457.3 631.3 L473.3 638 L500 643.3 L560 665.1 L567.5 663.2 L580.5 666.9 L582.4 659.5 L593.6 655.7 L595.5 644.5"/>
<path d="M572 384 L565 389 L566 405 L548 411 L542 412 L530 417 L516 432 L513 439 L494 441 L489 456 L488 469 L482 477 L441 489 L432 495 L440 499 L441 515 L454 523 L458 532 L445 539 L452 547 L453 556"/>
<path d="M482 477 L498 477 L502 483 L513 484 L517 487 L528 488 L532 497 L548 496 L558 497 L569 503 L578 500 L580 492 L588 488 L585 477 L598 479 L612 485 L616 481 L625 480 L638 487 L652 497 L657 500 L673 503 L681 509 L697 515 L708 523 L712 531 L710 536 L716 544 L720.5 551.2 L716.8 558.7 L714.9 569.9 L705.6 573.6 L705.6 581.1 L696.3 586.7 L698.1 596 L703.7 599.7 L698.1 605.3 L692.5 607.2 L681.3 601.6 L672 599.7 L670.1 603.5 L679.5 614.7 L690.7 618.4 L694.4 620.3 L692.5 627.7 L694.4 629.6 L701.9 625.9 L709.3 622.1 L707.5 614.7 L701.9 609.1"/>
<path d="M701.9 609.1 L718.7 601.6 L724.3 607.2 L726.1 614.7 L744.8 618.4 L748.5 625.9 L750.4 637.1 L756 642.7 L774.7 642.7 L785.3 638.7 L797.3 642.7 L808 641.3 L817.3 649.3 L826.7 653.3 L844 654.7 L858.7 664 L869.3 668 L880 673.3"/>
<path d="M694.4 629.6 L679.5 627.7 L677.6 640.8 L668.3 644.5 L657.1 642.7 L649.6 635.2 L638.4 637.1 L627.2 631.5 L621.6 618.4 L617.9 607.2 L604.8 603.5 L594.5 610.9 L597.3 622.1 L593.6 637.1 L595.5 644.5 L606.7 646.4 L614.1 652 L617.9 659.5 L627.2 676.3 L623.5 681.9 L629.1 700"/>
<path d="M590 384 L606 413 L600 419 L612 429 L617 433 L617 441 L628 436 L636 433 L654 433 L658 440 L657 448 L646 456 L641 459 L660 463 L673 472 L673 480 L680 480 L693.3 490.7 L700 485.3 L694.7 478.7 L708 474 L716 478.7 L729.3 472 L744 469.3 L746.7 478.7 L742.7 486.7 L730.7 496 L732 502.7 L728 506.7 L730.7 512 L748 521.3 L752 520 L782.7 512 L784 500 L786.7 480 L800 472 L805.3 472 L809.3 480 L804 489.3 L798.7 498.7 L813.3 502.7 L818.7 506.7 L824 510.7 L834.7 516 L849.3 513.3 L853.3 504 L869.3 480 L882.7 470.7 L902.7 468"/>
<path d="M752 521.3 L757.3 525.3 L770.7 536 L776 553.3 L773.3 560 L781.3 566.7 L786.7 570.7 L794.7 576 L797.3 572 L797.3 565.3 L808 560 L809.3 553.3 L798.7 550.7 L797.3 544 L801.3 530.7 L816 528 L817.3 520 L826.7 512"/>
<path d="M902.7 468 L900 482.7 L890.7 501.3 L894.7 517.3 L888 532 L888 560 L890.7 568 L884 582.7 L886.7 593.3 L893.3 612 L900 618.7 L901.3 640"/>
<path d="M902.7 468 L910.7 465.3 L920 464 L932 448 L936 448"/>
<path d="M964 427.3 L965.3 416.7 L972 415.3 L974.7 406 L980 402 L986.7 401.3 L988 414 L996 415.3 L998.7 411.3 L1009.3 407.3 L1014.7 411.3 L1020 404.7 L1032 404.7 L1033.3 394 L1044 390 L1052 388.7 L1057.3 394 L1064 403.3 L1062.7 412.7 L1065.3 420.7 L1076 421.3 L1084 423.3 L1077.3 431.3 L1078.7 436.7 L1085.3 439.3 L1092 442 L1098.7 455.3"/>
<path d="M972 444.7 L973.3 439.3 L969.3 434 L964 427.3"/>
<path d="M978.7 466.7 L976 477.3 L965.3 480 L964 485.3 L960 490.7 L957.3 496 L962.7 502.7 L968 513.3 L972 518.7 L965.3 524 L962.7 529.3 L960 537.3 L957.3 542.7 L961.3 546.7 L960 562.7 L957.3 566.7 L949.3 572 L940 574.7 L926.7 577.3 L921.3 581.3 L913.3 585.3 L901.3 590.7 L888 594.7"/>
<path d="M1000 456 L1005.3 441.3 L1012 438.7 L1024 430.7 L1036 437.3 L1041.3 440 L1045.3 453.3 L1052 462.7 L1056 473.3 L1052 481.3 L1048 492 L1033.3 489.3 L1029.3 481.3 L1032 476 L1029.3 468 L1018.7 466.7 L1008 466.7 L1000 462.7 L1000 456"/>
<path d="M1029.3 453.3 L1040 453.3 L1041.3 464 L1032 464 L1029.3 453.3"/>
<path d="M1040 606.7 L1048 608 L1053.3 614.7 L1061.3 617.3 L1057.3 626.7 L1060 630.7 L1062.7 638.7 L1070.7 641.3 L1076 636 L1080 636 L1084 641.3 L1082.7 646.7 L1073.3 646.7 L1066.7 660 L1072 668 L1076 676 L1084 678.7 L1093.3 681.3 L1100 685.3 L1112 689.3 L1122.7 685.3 L1128 692"/>
<path d="M1122.7 685.3 L1125.3 678.7 L1130.7 673.3 L1138.7 670.7"/>
<path d="M1093.3 681.3 L1090.7 689.3 L1086.7 696 L1078.7 702.7 L1074.7 714.7 L1066.7 721.3 L1061.3 724 L1060 734.7 L1066.7 748 L1069.3 756 L1074.7 758.7 L1080 772 L1080 780"/>
<path d="M1040 714.7 L1046.7 720 L1058.7 724"/>
<path d="M1080 773.3 L1093.3 770.7 L1100 778.7 L1109.3 777.3 L1114.7 780"/>
<path d="M880 629.3 L893.3 628.7 L901.3 629.3 L909.3 640 L914.7 644 L930.7 649.3 L941.3 649.3 L952 650 L960 649.3 L962.7 660 L970.7 665.3 L981.3 669.3 L994.7 673.3 L1000 677.3 L1009.3 684 L1013.3 685.3"/>
<path d="M988 632 L996 633.3 L994.7 644 L1009.3 648 L1010.7 656 L1009.3 665.3 L1000 669.3 L997.3 674.7"/>
<path d="M1013.3 685.3 L1009.3 692 L1013.3 706.7 L1016 714.7 L1026.7 712 L1029.3 709.3 L1032 713.3 L1029.3 720 L1034.7 717.3 L1042.7 716 L1048 721.3 L1057.3 722.7 L1062.7 724"/>
<path d="M880 716 L886.7 718.7 L890.7 714.7 L889.3 710.7 L896 708 L906.7 710.7 L918.7 714.7 L926.7 721.3 L933.3 720 L942.7 717.3 L945.3 724 L956 717.3 L960 720 L961.3 733.3 L968 736 L984 728 L992 722.7 L1000 717.3 L1008 717.3 L1013.3 716 L1016 714.7"/>
<path d="M966.7 736 L972 744 L972 754.7 L961.3 764 L958.7 772 L964 781.3 L965.3 797.3 L966.7 800"/>
<path d="M1062.7 724 L1058.7 733.3 L1062.7 741.3 L1066.7 750.7 L1068 756 L1076 757.3"/>
<path d="M864 802.7 L880 808 L898.7 805.3 L906.7 810.7 L906.7 821.3 L901.3 837.3 L912 842.7 L922.7 848 L920 866.7 L914.7 880 L901.3 893.3 L893.3 906.7 L885.3 917.3 L874.7 925.3 L872 930.7"/>
<path d="M912 842.7 L925.3 834.7 L944 840 L949.3 826.7 L965.3 829.3 L981.3 829.3 L984 840 L976 848 L986.7 850.7 L1008 845.3 L1029.3 848 L1034.7 869.3 L1034.7 877.3"/>
<path d="M965.3 829.3 L968 813.3 L970.7 800"/>
<path d="M1008 845.3 L1013.3 826.7 L1021.3 813.3 L1026.7 800"/>
<path d="M1156 268 L1168 278 L1170 282 L1176 284 L1180 278 L1184 282 L1182 286 L1172 288 L1170 296 L1176 298 L1190 296 L1200 316"/>
<path d="M1200 316 L1216 315 L1230 314 L1234 320 L1258 326 L1260 336 L1272 340 L1280 350 L1288 342 L1294 344 L1298 358 L1300 364 L1320 360 L1336 354 L1354 368"/>
<path d="M1172 340 L1180 354 L1178 366 L1186 368 L1200 378 L1204 382 L1210 376 L1216 396 L1222 402 L1224 414 L1232 426 L1230 432"/>
<path d="M1186 368 L1180 380 L1164 384 L1148 388 L1132 394 L1125.3 398 L1112 400.7 L1104 411.3 L1098.7 399.3 L1092 394.7 L1085.3 398"/>
<path d="M1084 440 L1094 444 L1098 456"/>
<path d="M817.3 514.7 L817.3 533.3 L832 541.3 L846.7 549.3 L848 568 L845.3 576 L828 577.3 L829.3 584 L814.7 585.3 L810.7 581.3 L800 581.3 L796 592 L801.3 606.7 L798.7 620 L784 624 L786.7 634.7 L776 637.3"/>
<path d="M997 563 L1000 554 L998 550 L997 544 L1000 539 L1008 531 L1013 524 L1018 521 L1022 518 L1030 510 L1036 510 L1045 509 L1048 505 L1056 499"/>
<path d="M997 563 L990 574 L987 579 L988 583 L993 584 L998 588 L1001 594 L1016 594 L1022 593 L1021 588 L1023 586 L1030 585 L1035 590 L1040 597 L1048 597 L1054 592 L1060 594 L1062 598 L1068 597 L1074 590 L1077 583 L1083 581 L1085 580"/>
<path d="M1016 594 L1024 602 L1028 610 L1017 616"/>
<path d="M1022 593 L1025 596 L1028 598 L1036 606 L1046 608 L1050 612 L1053 616"/>
<path d="M1028 482 L1032 489 L1040 492 L1048 491 L1054 483"/>
<path d="M620 666 L626 674 L624 682 L630 692 L632 714 L634 736 L638 756 L646 742 L658 756 L660 766 L668.8 764.1 L674.7 774.4 L679.1 784.7 L683.5 792 L686.4 797.9 L690.8 805.2 L695.2 811.1 L711.3 805.2 L720.1 800.8 L721.6 797.9 L718.7 789.1 L718.7 777.3 L724.5 771.5 L731.9 762.7 L734.8 755.3 L739.2 750.9 L739.2 746.5 L749.5 745.1 L750.9 750.9 L750.9 761.2 L756.8 765.6 L765.6 761.2 L771.5 765.6 L772.9 768.5 L780.3 769.3 L794.9 767.1 L793.5 759.7 L786.1 758.3 L780.3 749.5 L787.6 743.6 L797.9 748 L805.2 746.5 L814 740.7 L821.3 731.9 L828.7 734.8 L837.5 734.8 L841.9 745.1 L849.2 753.9 L856.5 756.8 L860.9 752.4 L862.4 736.3"/>
<path d="M620 758 L622 744 L628 736 L634 738"/>
<path d="M771.5 765.6 L768.5 774.4 L756.8 777.3 L749.5 775.9 L740.7 778.8 L734.8 784.7 L736.3 794.9 L742.1 799.3 L750.9 796.4 L756.8 802.3 L753.9 812.5 L750.9 821.3 L755.3 827.2 L759.7 833.1 L755.3 843.3 L755.3 850.7 L759.7 855.1 L771.5 860.9 L784.7 862.4 L790.5 868.3 L789.1 880"/>
<path d="M759.7 844.8 L771.5 843.3 L787.6 846.3 L797.9 836 L808.1 831.6 L814 824.3 L819.9 828.7 L828.7 834.5 L840.4 827.2 L847.7 824.3 L855.1 819.9 L865.3 811.1 L872.7 814 L880 809.6"/>
<path d="M862.4 736.3 L860.9 752.4 L863.9 770 L850.7 786.1 L859.5 784.7 L866.8 789.1 L863.9 808.1 L865.3 811.1"/>
<path d="M880 690.8 L872.7 689.3 L863.9 690.8 L856.5 693.7 L847.7 696.7 L841.9 699.6 L843.3 709.9 L844.8 715.7 L850.7 721.6 L856.5 728.9 L862.4 736.3"/>
<path d="M844 654.7 L840 662.7 L845.3 666.7 L837.3 676 L833.3 686.7 L821.3 693.3 L816 704 L810.7 709.3 L804 708 L793.3 701.3 L785.3 700 L782.7 701.3 L778.7 708 L777.3 713.3 L773.3 721.3 L776 728 L782.7 736 L786.7 738.7 L794.7 741.3 L797.3 748 L800 750.7"/>
<path d="M864 753.3 L861.3 732 L872 724 L880 716"/>
<path d="M1142.7 121.3 L1136 128 L1129.3 133.3 L1142.7 140 L1153.3 137.3 L1162.7 146.7 L1166.7 165.3 L1177.3 168 L1201.3 164 L1214.7 160 L1225.3 162.7 L1237.3 174.7 L1230.7 185.3 L1221.3 198.7 L1217.3 222.7 L1209.3 230.7 L1201.3 246.7 L1198.7 238.7 L1180 252 L1157.3 268"/>
<path d="M359 223 L381 221 L382 227 L386 233 L397 240 L405 248 L418 251 L429 255 L439 263 L443 272 L450 279 L453 288 L450 301 L445 312 L448 323 L465 325 L492 327 L510 330 L534 344 L549 347 L556 355 L562 375 L572 384 L590 384 L612 388 L638 391 L665 388 L692 391 L700 399 L718 403 L740 409 L756 409 L757 413 L769 412 L800 396 L821.3 393.3 L865.3 393.3 L877.3 388 L893.3 382.7 L902.7 370.7 L918.7 364 L922.7 360 L914.7 350.7 L909.3 342.7 L917.3 328 L925.3 325.3 L934.7 328 L944 333.3 L960 334.7 L976 324 L984 316 L998.7 318.7 L1016 310.7 L1020 297.3 L1029.3 292 L1042.7 290.7 L1046.7 286.7 L1060 284 L1077.3 284 L1088 286.7 L1100 285.3 L1100 276 L1088 265.3 L1077.3 257.3 L1069.3 252 L1053.3 252 L1042.7 260 L1029.3 253.3 L1012 258.7 L1002.7 249.3 L1009.3 238.7 L1029.3 204 L1053.3 212 L1061.3 208 L1082.7 200 L1086.7 190.7 L1085.3 185.3 L1090.7 177.3 L1100 165.3 L1106.7 152 L1117.3 144 L1118.7 136 L1104 133.3 L1104 128 L1118.7 117.3 L1136 116 L1141.3 113.3 L1153.3 112 L1177.3 109.3 L1193.3 112 L1214.7 117.3 L1230.7 121.3 L1238.7 130.7 L1245.3 140 L1249.3 148 L1254.7 158.7 L1257.3 166.7 L1262.7 177.3 L1270.7 192 L1273.3 206.7 L1286.7 209.3 L1297.3 210.7 L1313.3 214.7 L1326.7 222.7 L1340 229.3 L1342.7 241.3 L1348 257.3 L1353.3 260 L1380 258.7 L1388 252 L1420 242.7 L1441.3 240 L1428 252 L1432 260 L1425.3 268 L1420 273.3 L1417.3 284 L1406.7 302.7 L1404 313.3 L1396 321.3 L1393.3 326.7 L1372 321.3 L1356 325.3 L1350.7 332 L1356 350.7 L1357.3 366.7 L1354.7 377.3 L1340 380 L1334.7 385.3 L1340 393.3 L1326.7 382.7 L1324 377.3 L1321.3 393.3 L1313.3 393.3 L1310.7 401.3 L1286.7 406.7 L1286.7 414.7 L1281.3 420 L1268 416 L1260 409.3 L1241.3 426.7 L1233.3 433.3 L1228 436 L1214.7 443.3 L1201.3 455.3 L1196 462 L1180 459.3 L1166.7 466 L1153.3 472.7 L1142.7 478 L1133.3 482 L1126.7 483.3 L1127.3 488 L1131.3 484.7 L1134 476.7 L1132 471.3 L1130.7 467.3 L1133.3 462 L1140 456.7 L1146.7 452.7 L1149.3 446 L1148 439.3 L1142.7 435.3 L1133.3 432.7 L1118.7 442.7 L1113.3 450.7 L1102.7 454.7 L1097.3 456 L1093.3 458.7 L1086.7 464 L1084 470.7 L1077.3 477.3 L1070.7 480 L1066.7 482.7 L1058.7 477.3 L1053.3 485.3 L1050.7 493.3 L1056 498.7 L1066.7 501.3 L1074.7 502.7 L1080 505.3 L1085.3 510.7 L1086.7 514.7 L1080 517.3 L1078.7 522.7 L1084 528 L1093.3 529.3 L1098.7 522.7 L1108 514.7 L1114.7 512 L1122.7 510.7 L1128 514.7 L1136 518.7 L1141.3 520 L1149.3 518.7 L1160 521.3 L1162.7 522.7 L1160 528 L1157.3 536 L1149.3 536 L1140 537.3 L1133.3 538.7 L1124 542.7 L1118.7 548 L1106.7 553.3 L1104 562.7 L1093.3 570.7 L1088 578.7 L1085.3 584 L1093.3 589.3 L1104 600 L1109.3 601.3 L1114.7 613.3 L1121.3 626.7 L1124 641.3 L1133.3 648 L1136 656 L1144 660 L1146.7 670.7 L1148 676 L1150.7 678.7 L1146.7 681.3 L1146.7 690.7 L1150.7 694.7 L1130.7 692 L1126.7 698.7 L1134.7 702.7 L1141.3 708 L1144 713.3 L1146.7 720 L1145.3 726.7 L1148 732 L1141.3 734.7 L1140 744 L1138.7 750.7 L1133.3 756 L1128 761.3 L1120 769.3 L1117.3 780 L1106 788.7 L1095.3 799.3 L1098 818 L1095.3 828.7 L1084.7 834 L1074 839.3 L1063.3 850 L1056 861.3 L1045.3 869.3 L1034.7 877.3 L1026.7 880 L1018.7 888 L1008 893.3 L986.7 898.7 L973.3 901.3 L962.7 901.3 L957.3 912 L946.7 914.7 L933.3 922.7 L925.3 920 L912 925.3 L896 930.7 L888 936 L882.7 941.3 L890.7 957.3 L885.3 960 L877.3 960 L872 952 L870.7 936 L874.7 928 L857.3 930.7 L846.7 924 L833.3 928 L820 925.3 L804 916 L801.3 904 L806.7 894.7 L800 892 L786.7 892 L778.7 886.7 L773.3 880 L761.3 888 L746.7 893.3 L742.7 901.3 L734.7 898.7 L728 896 L720 902.7 L706.7 897.3 L700 904 L693.7 935.3 L680.3 934 L675 923.3 L656.3 928.7 L635 912.7 L643 891.3 L628.3 883.3 L624.3 860.7 L600.3 867.3 L599 856.7 L601.7 843.3 L605.7 832.7 L611 824.7 L621.7 816.7 L624.3 806 L624.3 772.7 L620.3 766 L613.7 763.3 L612.3 758 L608.3 752.7 L601.7 748.7 L597.7 750 L593.7 760.7 L589.7 767.3 L581.7 763.3 L568.3 758 L560.3 755.3 L544.3 763.3 L525.7 772.7 L515 784.7 L509.7 787.3 L499 788.7 L475 791.3 L474.7 778 L468 774 L465.3 768.7 L457.3 763.3 L441.3 759.3 L425.3 756.7 L410.7 774 L406.7 782 L404 779.3 L401.3 760.7 L382.7 763.3 L366.7 766 L356 760.7 L342.7 758 L337.3 763.3 L332 755.3 L321.3 755.3 L318.7 747.3 L302.7 742 L297.3 730 L286.7 731.3 L270.7 718 L254.7 710 L252 703.3 L237.3 700.7 L230.7 710 L222.7 702 L206.7 695.3 L190.7 683.3 L180 680.7 L177.3 667.3 L172 656.7 L169.3 647.3 L174.7 643.3 L181.3 650 L188 643.3 L185.3 630 L177.3 619.3 L176 606 L180 599.3 L164 590 L161.3 571.3 L140 567.3 L126.7 560.7 L116 556.7 L114 547 L102 539 L85 532 L81 527 L94 524 L91 515 L87 495 L71 493 L63 483 L59 471 L66 469 L69 455 L85 449 L90 443 L105 440 L107 448 L125 445 L130 437 L138 429 L155 428 L165 420 L183 413 L202 404 L210 397 L210 384 L222 373 L213 349 L210 333 L203 331 L221 325 L245 320 L261 323 L263 317 L255 312 L273 272 L279 273 L301 277 L317 279 L331 272 L331 261 L329 249 L333 241 L354 235 L357 227Z"/>
<path d="M846.7 984 L861.3 968 L877.3 964 L898.7 962.7 L902.7 976 L893.3 986.7 L890.7 1000 L880 1005.3 L869.3 1013.3 L850.7 1008 L846.7 994.7Z"/>
<path d="M1104 888 L1106.7 866.7 L1114.7 850.7 L1125.3 834.7 L1137.3 830.7 L1146.7 837.3 L1144 853.3 L1138.7 874.7 L1130.7 890.7 L1125.3 901.3 L1121.3 917.3 L1117.3 912 L1112 901.3Z"/>
</g>
<g fill="none" stroke="#5A5A5A" stroke-width="1.3" stroke-linecap="round">
<path d="M1158.7 878.7 L1165.3 849.3"/>
<path d="M1128 945.3 L1145.3 922.7"/>
<path d="M1090.7 1017.3 L1102.7 990.7"/>
<path d="M1081.3 1066.7 L1081.3 1094.7"/>
<path d="M1069.3 1198.7 L1080 1170.7"/>
<path d="M862.7 1062.7 L869.3 1074.7 L874.7 1090.7"/>
<path d="M880 1190.7 L884 1177.3 L885.3 1164"/>
<path d="M840 1324 L837.3 1310.7 L838.7 1297.3"/>
<path d="M917.3 1390.7 L930.7 1386.7 L942.7 1381.3"/>
<path d="M1001.3 1294.7 L1018.7 1273.3"/>
</g><g fill="#5A5A5A">
<rect x="1009.9" y="937.9" width="1.6" height="1.6"/>
<rect x="1029.9" y="947.2" width="1.6" height="1.6"/>
<rect x="944.5" y="977.9" width="1.6" height="1.6"/>
<rect x="963.2" y="985.9" width="1.6" height="1.6"/>
<rect x="909.9" y="1039.2" width="1.6" height="1.6"/>
<rect x="927.2" y="1044.5" width="1.6" height="1.6"/>
<rect x="913.9" y="1055.2" width="1.6" height="1.6"/>
<rect x="921.9" y="1059.2" width="1.6" height="1.6"/>
<rect x="932.5" y="1057.9" width="1.6" height="1.6"/>
<rect x="916.5" y="1065.9" width="1.6" height="1.6"/>
<rect x="933.9" y="1065.9" width="1.6" height="1.6"/>
<rect x="927.2" y="1073.9" width="1.6" height="1.6"/>
<rect x="964.5" y="1073.9" width="1.6" height="1.6"/>
<rect x="975.2" y="1065.9" width="1.6" height="1.6"/>
<rect x="985.9" y="1063.2" width="1.6" height="1.6"/>
<rect x="980.5" y="1076.5" width="1.6" height="1.6"/>
<rect x="1028.5" y="1059.2" width="1.6" height="1.6"/>
<rect x="1051.2" y="1088.5" width="1.6" height="1.6"/>
<rect x="997.9" y="1119.2" width="1.6" height="1.6"/>
<rect x="1133.9" y="897.9" width="1.6" height="1.6"/>
<rect x="1136.5" y="913.9" width="1.6" height="1.6"/>
<rect x="1109.9" y="905.9" width="1.6" height="1.6"/>
<rect x="1088.5" y="883.2" width="1.6" height="1.6"/>
<rect x="1148.5" y="823.2" width="1.6" height="1.6"/>
<rect x="1179.2" y="819.2" width="1.6" height="1.6"/>
<rect x="1183.2" y="813.9" width="1.6" height="1.6"/>
<rect x="1123.2" y="813.9" width="1.6" height="1.6"/>
<rect x="856.5" y="939.2" width="1.6" height="1.6"/>
<rect x="903.2" y="967.2" width="1.6" height="1.6"/>
<rect x="981.9" y="1183.2" width="1.6" height="1.6"/>
<rect x="1028.5" y="1183.2" width="1.6" height="1.6"/>
<rect x="983.2" y="1193.9" width="1.6" height="1.6"/>
<rect x="977.9" y="1200.5" width="1.6" height="1.6"/>
<rect x="987.2" y="1197.9" width="1.6" height="1.6"/>
<rect x="969.9" y="1196.5" width="1.6" height="1.6"/>
<rect x="959.2" y="1215.2" width="1.6" height="1.6"/>
<rect x="972.5" y="1213.9" width="1.6" height="1.6"/>
<rect x="983.2" y="1212.5" width="1.6" height="1.6"/>
<rect x="996.5" y="1216.5" width="1.6" height="1.6"/>
<rect x="1012.5" y="1219.2" width="1.6" height="1.6"/>
<rect x="1001.9" y="1223.2" width="1.6" height="1.6"/>
<rect x="1009.9" y="1228.5" width="1.6" height="1.6"/>
<rect x="1024.5" y="1225.9" width="1.6" height="1.6"/>
<rect x="1041.9" y="1200.5" width="1.6" height="1.6"/>
<rect x="1049.9" y="1199.2" width="1.6" height="1.6"/>
<rect x="1025.9" y="1211.2" width="1.6" height="1.6"/>
<rect x="1040.5" y="1212.5" width="1.6" height="1.6"/>
<rect x="1041.9" y="1219.2" width="1.6" height="1.6"/>
<rect x="983.2" y="1221.9" width="1.6" height="1.6"/>
<rect x="964.5" y="1220.5" width="1.6" height="1.6"/>
<rect x="999.2" y="1237.9" width="1.6" height="1.6"/>
<rect x="1011.2" y="1239.2" width="1.6" height="1.6"/>
<rect x="1028.5" y="1244.5" width="1.6" height="1.6"/>
<rect x="1019.2" y="1249.9" width="1.6" height="1.6"/>
<rect x="981.9" y="1249.9" width="1.6" height="1.6"/>
<rect x="972.5" y="1252.5" width="1.6" height="1.6"/>
<rect x="965.9" y="1251.2" width="1.6" height="1.6"/>
<rect x="959.2" y="1247.2" width="1.6" height="1.6"/>
<rect x="935.2" y="1232.5" width="1.6" height="1.6"/>
<rect x="928.5" y="1249.9" width="1.6" height="1.6"/>
<rect x="936.5" y="1249.9" width="1.6" height="1.6"/>
<rect x="913.9" y="1256.5" width="1.6" height="1.6"/>
<rect x="909.9" y="1259.2" width="1.6" height="1.6"/>
<rect x="921.9" y="1269.9" width="1.6" height="1.6"/>
<rect x="943.2" y="1261.9" width="1.6" height="1.6"/>
<rect x="951.2" y="1267.2" width="1.6" height="1.6"/>
<rect x="943.2" y="1275.2" width="1.6" height="1.6"/>
<rect x="913.9" y="1276.5" width="1.6" height="1.6"/>
<rect x="912.5" y="1283.2" width="1.6" height="1.6"/>
<rect x="889.9" y="1269.9" width="1.6" height="1.6"/>
<rect x="887.2" y="1275.2" width="1.6" height="1.6"/>
<rect x="876.5" y="1275.2" width="1.6" height="1.6"/>
<rect x="871.2" y="1283.2" width="1.6" height="1.6"/>
<rect x="995.2" y="1261.9" width="1.6" height="1.6"/>
<rect x="1001.9" y="1259.2" width="1.6" height="1.6"/>
<rect x="983.2" y="1267.2" width="1.6" height="1.6"/>
<rect x="985.9" y="1276.5" width="1.6" height="1.6"/>
<rect x="988.5" y="1284.5" width="1.6" height="1.6"/>
<rect x="985.9" y="1291.2" width="1.6" height="1.6"/>
<rect x="959.2" y="1299.2" width="1.6" height="1.6"/>
<rect x="949.9" y="1315.2" width="1.6" height="1.6"/>
<rect x="933.9" y="1325.9" width="1.6" height="1.6"/>
<rect x="932.5" y="1333.9" width="1.6" height="1.6"/>
<rect x="936.5" y="1345.9" width="1.6" height="1.6"/>
<rect x="943.2" y="1348.5" width="1.6" height="1.6"/>
<rect x="924.5" y="1377.9" width="1.6" height="1.6"/>
<rect x="928.5" y="1376.5" width="1.6" height="1.6"/>
<rect x="963.2" y="1281.9" width="1.6" height="1.6"/>
<rect x="997.9" y="1119.2" width="1.6" height="1.6"/>
<rect x="1027.2" y="1179.2" width="1.6" height="1.6"/>
<rect x="1047.2" y="1193.9" width="1.6" height="1.6"/>
<rect x="965.3" y="1079.2" width="1.6" height="1.6"/>
<rect x="968" y="1072.5" width="1.6" height="1.6"/>
<rect x="972.5" y="1068" width="1.6" height="1.6"/>
<rect x="978.7" y="1065.9" width="1.6" height="1.6"/>
<rect x="984.5" y="1063.2" width="1.6" height="1.6"/>
<rect x="987.7" y="1068" width="1.6" height="1.6"/>
<rect x="979.2" y="1077.1" width="1.6" height="1.6"/>
<rect x="913.1" y="1061.9" width="1.6" height="1.6"/>
<rect x="936" y="1058.4" width="1.6" height="1.6"/>
<rect x="935.2" y="1065.9" width="1.6" height="1.6"/>
<rect x="980.5" y="1268.5" width="1.6" height="1.6"/>
<rect x="985.9" y="1273.9" width="1.6" height="1.6"/>
<rect x="989.9" y="1285.9" width="1.6" height="1.6"/>
<rect x="912.5" y="1276.5" width="1.6" height="1.6"/>
<rect x="915.2" y="1281.9" width="1.6" height="1.6"/>
<rect x="876.5" y="1275.2" width="1.6" height="1.6"/>
<rect x="889.9" y="1269.9" width="1.6" height="1.6"/>
<rect x="951.2" y="1265.9" width="1.6" height="1.6"/>
<rect x="1008.5" y="1228.5" width="1.6" height="1.6"/>
<rect x="1023.2" y="1212.5" width="1.6" height="1.6"/>
<rect x="1040.5" y="1201.9" width="1.6" height="1.6"/>
<rect x="1051.2" y="1200.5" width="1.6" height="1.6"/>
<rect x="979.2" y="1199.2" width="1.6" height="1.6"/>
<rect x="933.9" y="1328.5" width="1.6" height="1.6"/>
<rect x="936.5" y="1337.9" width="1.6" height="1.6"/>
<rect x="924.5" y="1377.9" width="1.6" height="1.6"/>
<rect x="928.5" y="1375.2" width="1.6" height="1.6"/>
</g>
<path d="M965.3 1284 L970.7 1277.3 L978.7 1273.3 L981.3 1276 L976 1281.3 L968 1284.5Z" fill="#D9D9D9" stroke="#5A5A5A" stroke-width="1"/>
<path d="M865.3 1289.9 L872 1284 L876 1285.3 L873.3 1286.7 L868 1289.9Z" fill="#D9D9D9" stroke="#5A5A5A" stroke-width="1"/>
<path d="M1128 665.3 L1133.3 663.3 L1141.3 666.7 L1146.7 672 L1148.7 676 L1145.3 676.7 L1138.7 672 L1132 668.7Z" fill="#fff" stroke="#5A5A5A" stroke-width="1"/>
<path d="M1145.3 702.7 L1150.7 701.3 L1153.3 704 L1149.3 706.7 L1145.3 706Z" fill="#D9D9D9" stroke="#5A5A5A" stroke-width="1"/>
<path d="M1152 708 L1157.3 710.7 L1156 714.7 L1152 713.3Z" fill="#D9D9D9" stroke="#5A5A5A" stroke-width="1"/>
<path d="M1146.7 710.7 L1150.7 712 L1149.3 716 L1146 714.7Z" fill="#D9D9D9" stroke="#5A5A5A" stroke-width="1"/>
<path d="M1154.7 692 L1158.7 691.3 L1160 694 L1156 694.7Z" fill="#D9D9D9" stroke="#5A5A5A" stroke-width="1"/>
<path d="M1153.3 698.7 L1156.7 699.3 L1156 700.7 L1153.1 700.3Z" fill="#D9D9D9" stroke="#5A5A5A" stroke-width="1"/>
<path d="M1141.3 730.7 L1145.3 732 L1144 735.3 L1140.7 734.7Z" fill="#D9D9D9" stroke="#5A5A5A" stroke-width="1"/>
</g>
<rect x="31" y="31" width="1438" height="1438" fill="none" stroke="#000" stroke-width="2"/>
<rect x="72" y="881" width="42" height="42" fill="#FFFFE5"/>
<rect x="72" y="923" width="42" height="42" fill="#FFFACA"/>
<rect x="72" y="965" width="42" height="42" fill="#FFF0AE"/>
<rect x="72" y="1007" width="42" height="42" fill="#FEE391"/>
<rect x="72" y="1049" width="42" height="42" fill="#FECE65"/>
<rect x="72" y="1091" width="42" height="42" fill="#FEB642"/>
<rect x="72" y="1133" width="42" height="42" fill="#FE9929"/>
<rect x="72" y="1175" width="42" height="42" fill="#F27E1B"/>
<rect x="72" y="1217" width="42" height="42" fill="#E1640E"/>
<rect x="72" y="1259" width="42" height="42" fill="#CC4C02"/>
<rect x="72" y="1301" width="42" height="42" fill="#AA3C03"/>
<rect x="72" y="1343" width="42" height="42" fill="#882F05"/>
<rect x="72" y="1385" width="42" height="42" fill="#662506"/>
<g font-family="Liberation Sans, sans-serif" font-size="34.6" fill="#000">
<text x="125.5" y="916">0.049% - 0.104%</text>
<text x="125.5" y="958">0.104% - 0.155%</text>
<text x="125.5" y="1000">0.155% - 0.198%</text>
<text x="125.5" y="1042">0.198% - 0.256%</text>
<text x="125.5" y="1084">0.256% - 0.300%</text>
<text x="125.5" y="1126">0.300% - 0.353%</text>
<text x="125.5" y="1168">0.353% - 0.391%</text>
<text x="125.5" y="1210">0.391% - 0.483%</text>
<text x="125.5" y="1252">0.483% - 0.655%</text>
<text x="125.5" y="1294">0.655% - 0.838%</text>
<text x="125.5" y="1336">0.838% - 0.952%</text>
<text x="125.5" y="1378">0.952% - 1.071%</text>
<text x="125.5" y="1420">1.071% - 1.905%</text>
</g>
<text x="62.2" y="131.6" font-family="Liberation Sans, sans-serif" font-size="65.3" fill="#000">O-F5525_</text>
<g fill="none" stroke="#000" stroke-linecap="butt" stroke-linejoin="miter">
<path d="M71.00 830.60 L89.00 830.00" stroke-width="1.44"/>
<path d="M80.00 819.80 L80.00 858.20" stroke-width="2.30"/>
<path d="M79.64 833.00 L70.04 851.00" stroke-width="1.95"/>
<path d="M81.20 836.36 L87.20 840.80" stroke-width="1.95"/>
<path d="M92.00 822.80 L92.00 857.60" stroke-width="2.30"/>
<path d="M105.80 822.80 L105.80 857.00" stroke-width="2.30"/>
<path d="M92.00 823.64 L105.80 823.64" stroke-width="1.44"/>
<path d="M92.00 834.20 L105.80 834.20" stroke-width="1.44"/>
<path d="M92.00 843.80 L105.80 843.80" stroke-width="1.44"/>
<path d="M92.00 854.60 L105.80 854.60" stroke-width="1.44"/>
<path d="M115.40 826.04 L131.24 826.04" stroke-width="1.44"/>
<path d="M131.24 826.04 L122.60 842.60 L113.60 855.20" stroke-width="1.95"/>
<path d="M116.84 827.60 L125.00 841.40 L130.40 853.16" stroke-width="1.95"/>
<path d="M132.20 830.84 L153.20 830.84" stroke-width="1.44"/>
<path d="M144.20 820.40 L144.20 856.04 L138.80 853.64" stroke-width="2.30"/>
<path d="M135.20 837.20 L137.60 843.80" stroke-width="1.95"/>
<path d="M177.20 819.80 L177.20 839.60" stroke-width="2.30"/>
<path d="M177.20 829.04 L195.20 829.04" stroke-width="1.44"/>
<path d="M165.80 839.00 L165.80 858.20" stroke-width="2.30"/>
<path d="M190.40 839.00 L190.40 857.60" stroke-width="2.30"/>
<path d="M165.80 839.84 L190.40 839.84" stroke-width="1.44"/>
<path d="M165.80 854.60 L190.40 854.60" stroke-width="1.44"/>
<path d="M208.40 821.00 L208.40 855.80" stroke-width="2.30"/>
<path d="M208.40 835.64 L221.00 835.64" stroke-width="1.44"/>
<path d="M207.80 855.80 L221.00 849.44" stroke-width="1.95"/>
<path d="M225.20 820.40 L225.20 853.64 L240.20 854.60 L238.64 846.44" stroke-width="2.30"/>
<path d="M225.20 839.60 L239.00 827.00" stroke-width="1.95"/>
<path d="M1190.27 1391.73 L1185.47 1400.80 L1180.67 1409.33" stroke-width="1.70"/>
<path d="M1187.07 1402.40 L1187.07 1424.27" stroke-width="2.00"/>
<path d="M1198.80 1391.73 L1190.27 1406.67" stroke-width="1.70"/>
<path d="M1199.33 1398.13 L1199.33 1424.27" stroke-width="2.00"/>
<path d="M1197.20 1398.13 L1212.13 1398.13" stroke-width="1.25"/>
<path d="M1199.33 1407.20 L1211.07 1407.20" stroke-width="1.25"/>
<path d="M1199.33 1415.20 L1212.13 1415.20" stroke-width="1.25"/>
<path d="M1230.80 1392.27 L1230.80 1403.47" stroke-width="2.00"/>
<path d="M1221.20 1397.33 L1237.73 1397.33" stroke-width="1.25"/>
<path d="M1216.93 1403.47 L1248.93 1403.47" stroke-width="1.25"/>
<path d="M1243.60 1393.87 L1230.27 1405.07 L1216.93 1415.73" stroke-width="1.70"/>
<path d="M1226.27 1408.53 L1226.27 1423.47" stroke-width="2.00"/>
<path d="M1241.20 1408.80 L1241.20 1422.93" stroke-width="2.00"/>
<path d="M1226.27 1409.33 L1242.53 1409.33" stroke-width="1.25"/>
<path d="M1226.27 1414.40 L1241.20 1414.40" stroke-width="1.25"/>
<path d="M1226.27 1420.27 L1241.20 1420.27" stroke-width="1.25"/>
<path d="M1329.40 1393.50 L1333.07 1397.53" stroke-width="1.70"/>
<path d="M1326.47 1401.57 L1330.13 1405.60" stroke-width="1.70"/>
<path d="M1326.83 1414.03 L1330.13 1415.87 L1330.50 1422.47" stroke-width="1.70"/>
<path d="M1336.00 1394.60 L1337.83 1397.17" stroke-width="1.70"/>
<path d="M1344.21 1392.40 L1341.28 1397.53" stroke-width="1.70"/>
<path d="M1334.53 1399.73 L1347.00 1399.73" stroke-width="1.25"/>
<path d="M1340.40 1399.73 L1340.40 1412.20" stroke-width="2.00"/>
<path d="M1336.00 1404.87 L1336.00 1412.20" stroke-width="2.00"/>
<path d="M1336.00 1412.20 L1346.27 1412.20" stroke-width="1.25"/>
<path d="M1346.27 1404.13 L1346.27 1412.20" stroke-width="2.00"/>
<path d="M1339.67 1412.20 L1332.33 1423.93" stroke-width="1.70"/>
<path d="M1348.47 1394.60 L1348.47 1412.20 L1341.87 1423.93" stroke-width="2.00"/>
<path d="M1357.27 1394.60 L1357.27 1423.20 L1352.87 1421.15" stroke-width="2.00"/>
<path d="M1348.47 1394.97 L1357.27 1394.97" stroke-width="1.25"/>
<path d="M1348.47 1403.77 L1357.27 1403.77" stroke-width="1.25"/>
<path d="M1348.47 1410.73 L1357.27 1410.73" stroke-width="1.25"/>
<path d="M1366.07 1393.50 L1369.73 1397.53" stroke-width="1.70"/>
<path d="M1362.40 1401.57 L1366.07 1405.60" stroke-width="1.70"/>
<path d="M1363.13 1414.03 L1366.07 1415.50 L1366.07 1422.47" stroke-width="1.70"/>
<path d="M1373.40 1394.60 L1394.67 1394.60" stroke-width="1.25"/>
<path d="M1373.40 1394.60 L1373.40 1406.33 L1369.00 1423.20" stroke-width="2.00"/>
<path d="M1385.28 1395.33 L1383.08 1399.00" stroke-width="1.70"/>
<path d="M1379.27 1399.00 L1379.27 1412.20" stroke-width="2.00"/>
<path d="M1391.73 1399.00 L1391.73 1412.20" stroke-width="2.00"/>
<path d="M1379.27 1399.37 L1391.73 1399.37" stroke-width="1.25"/>
<path d="M1379.27 1405.60 L1391.73 1405.60" stroke-width="1.25"/>
<path d="M1379.27 1411.61 L1391.73 1411.61" stroke-width="1.25"/>
<path d="M1385.13 1412.20 L1385.13 1422.47 L1382.20 1421.00" stroke-width="2.00"/>
<path d="M1379.41 1414.40 L1373.55 1421.73" stroke-width="1.70"/>
<path d="M1388.21 1414.40 L1393.93 1420.27" stroke-width="1.70"/>
<path d="M1401.27 1395.33 L1413.00 1395.33" stroke-width="1.25"/>
<path d="M1399.07 1401.57 L1415.93 1401.57" stroke-width="1.25"/>
<path d="M1413.00 1394.60 L1413.00 1407.80" stroke-width="2.00"/>
<path d="M1400.53 1407.43 L1415.20 1407.43" stroke-width="1.25"/>
<path d="M1406.40 1395.33 L1406.40 1407.80 L1398.33 1418.80" stroke-width="2.00"/>
<path d="M1403.47 1413.30 L1403.47 1423.93" stroke-width="2.00"/>
<path d="M1412.27 1413.30 L1412.27 1423.93" stroke-width="2.00"/>
<path d="M1403.47 1413.45 L1412.27 1413.45" stroke-width="1.25"/>
<path d="M1403.47 1421.37 L1412.27 1421.37" stroke-width="1.25"/>
<path d="M1417.55 1393.13 L1419.75 1396.95" stroke-width="1.70"/>
<path d="M1427.08 1392.40 L1424.00 1396.95" stroke-width="1.70"/>
<path d="M1416.67 1400.10 L1430.60 1400.10" stroke-width="1.25"/>
<path d="M1417.40 1406.33 L1429.87 1406.33" stroke-width="1.25"/>
<path d="M1415.20 1413.30 L1431.33 1413.30" stroke-width="1.25"/>
<path d="M1422.53 1400.10 L1422.53 1424.08" stroke-width="2.00"/>
</g>
<text x="1250.8" y="1420.5" font-family="Liberation Sans, sans-serif" font-size="35" fill="#000">:O1a</text>
</svg></body></html>
